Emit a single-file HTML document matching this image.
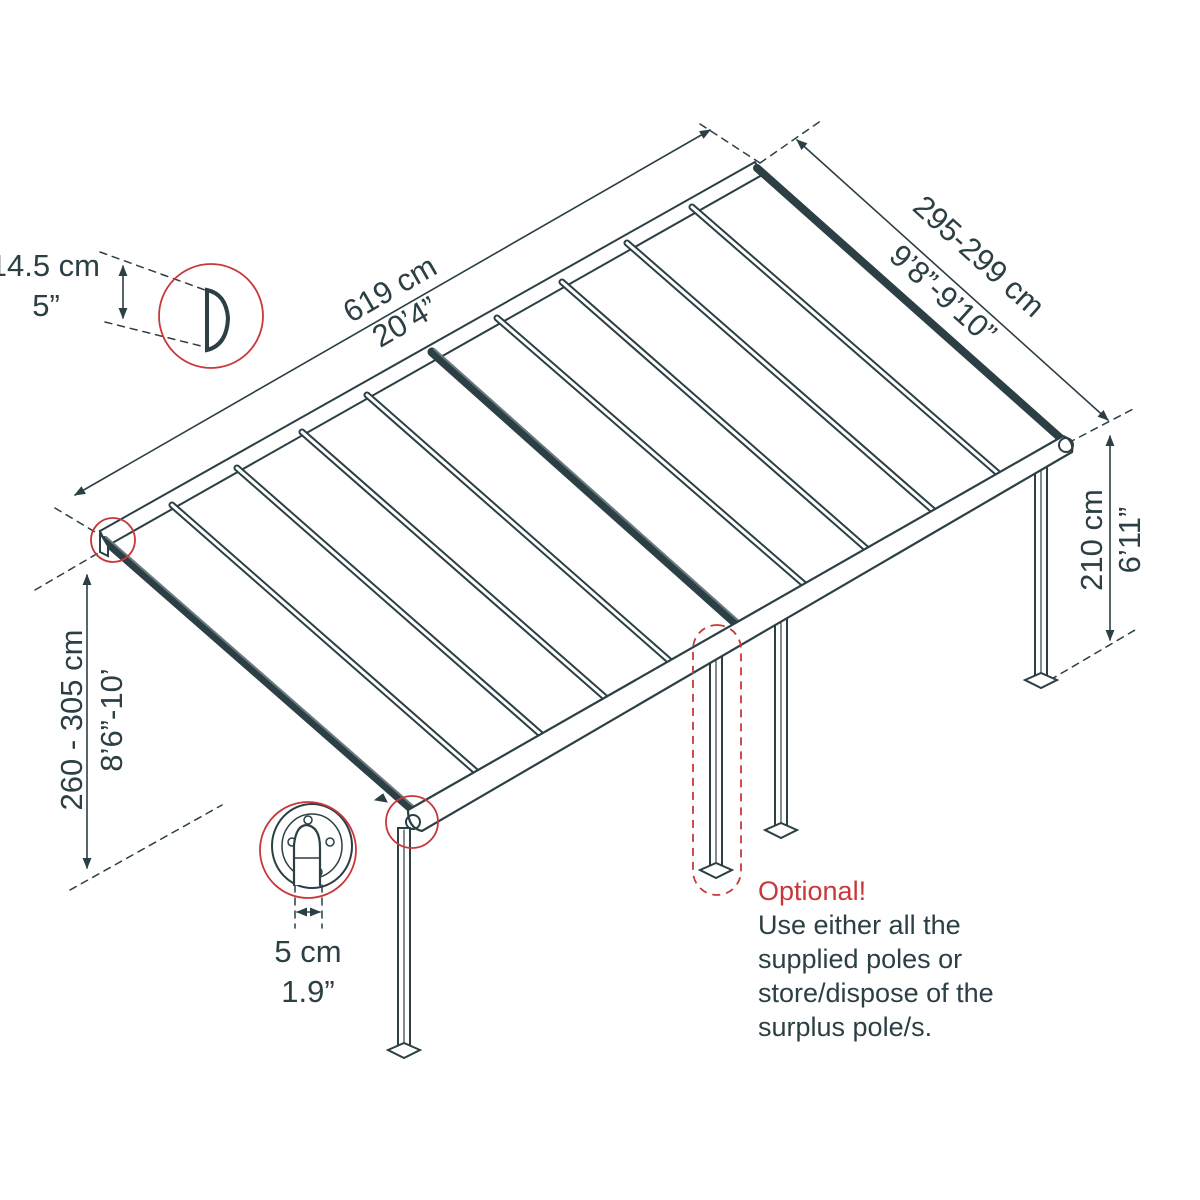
<!DOCTYPE html>
<html><head><meta charset="utf-8"><style>
html,body{margin:0;padding:0;background:#fff;}
svg{display:block}
text{font-family:"Liberation Sans",sans-serif;fill:#2b3f45}
</style></head><body>
<svg width="1200" height="1200" viewBox="0 0 1200 1200" xmlns="http://www.w3.org/2000/svg">
<defs>
<marker id="a" viewBox="0 0 10 10" refX="9" refY="5" markerWidth="7" markerHeight="7" orient="auto-start-reverse"><path d="M0,1 L10,5 L0,9 z" fill="#2b3f45"/></marker>
</defs>
<g stroke="#2b3f45" fill="none" stroke-linecap="round">
<g stroke-dasharray="7,6" stroke-width="1.5">
<line x1="55" y1="508" x2="100" y2="535"/>
<line x1="700" y1="124" x2="760" y2="163"/>
<line x1="760" y1="163" x2="822" y2="120"/>
<line x1="1068" y1="443" x2="1135" y2="408"/>
<line x1="1050" y1="680" x2="1135" y2="630"/>
<line x1="35" y1="590" x2="100" y2="552"/>
<line x1="70" y1="890" x2="222" y2="805"/>
<line x1="100" y1="252" x2="205" y2="290"/>
<line x1="105" y1="322" x2="205" y2="347"/>
<line x1="295" y1="885" x2="295" y2="928"/>
<line x1="322" y1="885" x2="322" y2="928"/>
</g>
<g stroke-width="1.6">
<line x1="75" y1="495" x2="710" y2="130" marker-start="url(#a)" marker-end="url(#a)"/>
<line x1="797" y1="140" x2="1108" y2="420" marker-start="url(#a)" marker-end="url(#a)"/>
<line x1="1110" y1="436" x2="1110" y2="640" marker-start="url(#a)" marker-end="url(#a)"/>
<line x1="87" y1="575" x2="87" y2="868" marker-start="url(#a)" marker-end="url(#a)"/>
<line x1="123" y1="266" x2="123" y2="318" marker-start="url(#a)" marker-end="url(#a)"/>
<line x1="297" y1="912" x2="320" y2="912" marker-start="url(#a)" marker-end="url(#a)"/>
</g>
<g stroke-width="2" fill="#fff">
<rect x="398" y="828" width="12" height="222"/>
<rect x="710" y="648" width="12" height="222"/>
<rect x="775" y="615" width="12" height="215"/>
<rect x="1035" y="456" width="12" height="224"/>
</g>
<g stroke-width="1.2"><line x1="404" y1="830" x2="404" y2="1048"/><line x1="716" y1="650" x2="716" y2="868"/><line x1="781" y1="617" x2="781" y2="828"/><line x1="1041" y1="458" x2="1041" y2="678"/></g>
<g stroke-width="2" fill="#fff">
<path d="M388 1050 L404 1043 L420 1050 L404 1058 Z"/>
<path d="M700 870 L716 863 L732 870 L716 878 Z"/>
<path d="M765 830 L781 823 L797 830 L781 838 Z"/>
<path d="M1025 680 L1041 673 L1057 680 L1041 688 Z"/>
</g>
<path d="M100 531 L755 162 L762 175 L107 546 Z" fill="#fff" stroke-width="2"/>
<g stroke-width="7">
<line x1="172" y1="505" x2="480" y2="775"/>
<line x1="237" y1="468" x2="545" y2="738"/>
<line x1="302" y1="432" x2="608" y2="700"/>
<line x1="367" y1="395" x2="672" y2="663"/>
<line x1="497" y1="318" x2="805" y2="585"/>
<line x1="562" y1="282" x2="868" y2="550"/>
<line x1="627" y1="243" x2="935" y2="512"/>
<line x1="692" y1="207" x2="1000" y2="475"/>
</g>
<g stroke-width="3" stroke="#fff">
<line x1="172" y1="505" x2="480" y2="775"/>
<line x1="237" y1="468" x2="545" y2="738"/>
<line x1="302" y1="432" x2="608" y2="700"/>
<line x1="367" y1="395" x2="672" y2="663"/>
<line x1="497" y1="318" x2="805" y2="585"/>
<line x1="562" y1="282" x2="868" y2="550"/>
<line x1="627" y1="243" x2="935" y2="512"/>
<line x1="692" y1="207" x2="1000" y2="475"/>
</g>
<line x1="432" y1="352" x2="740" y2="627" stroke-width="9"/>
<line x1="434" y1="349" x2="742" y2="624" stroke-width="2" stroke="#6a7b80"/>
<line x1="104" y1="540" x2="418" y2="815" stroke-width="8"/>
<line x1="106" y1="537" x2="420" y2="812" stroke-width="2" stroke="#6a7b80"/>
<line x1="757" y1="168" x2="1066" y2="443" stroke-width="8"/>
<path d="M408 810 L1063 436 Q1074 440 1072 452 L422 831 Q408 828 408 810 Z" fill="#fff" stroke-width="2.2"/>
<circle cx="413" cy="822" r="7" stroke-width="2"/>
<circle cx="1066" cy="445" r="7" stroke-width="2"/>
<path d="M100 533 L108 546 L108 556 L100 552 Z" fill="#fff" stroke-width="2"/>
<path d="M375 800 l8 -6 l4 8 z" fill="#2b3f45" stroke-width="1"/>
<path d="M207 290 Q226 294 228 318 Q227 345 207 350 Z" stroke-width="4" fill="#fff"/>
<ellipse cx="312" cy="846" rx="40" ry="42" stroke-width="2"/>
<ellipse cx="312" cy="846" rx="30" ry="32" stroke-width="1.5"/>
<circle cx="308" cy="820" r="4" stroke-width="1.5"/><circle cx="292" cy="842" r="4" stroke-width="1.5"/><circle cx="330" cy="842" r="4" stroke-width="1.5"/><circle cx="318" cy="872" r="4" stroke-width="1.5"/>
<path d="M294 885 L294 845 Q296 825 307 825 Q320 827 320 848 L320 885" fill="#fff" stroke-width="2.2"/>
<line x1="294" y1="858" x2="320" y2="858" stroke-width="1.5"/>
</g>
<g stroke="#c8383a" fill="none" stroke-width="1.8">
<circle cx="211" cy="316" r="52"/>
<circle cx="113" cy="540" r="22"/>
<circle cx="412" cy="822" r="26"/>
<circle cx="308" cy="850" r="48"/>
<rect x="693" y="625" width="48" height="270" rx="24" stroke-dasharray="8,6"/>
</g>
<g font-size="31">
<text transform="translate(395,298) rotate(-30)" text-anchor="middle">619 cm</text>
<text transform="translate(410,331) rotate(-30)" text-anchor="middle">20’4”</text>
<text transform="translate(972,264) rotate(42)" text-anchor="middle">295-299 cm</text>
<text transform="translate(936,302) rotate(42)" text-anchor="middle">9’8”-9’10”</text>
<text transform="translate(1102,540) rotate(-90)" text-anchor="middle">210 cm</text>
<text transform="translate(1140,540) rotate(-90)" text-anchor="middle">6’11”</text>
<text transform="translate(82,720) rotate(-90)" text-anchor="middle">260 - 305 cm</text>
<text transform="translate(122,720) rotate(-90)" text-anchor="middle">8’6”-10’</text>
<text x="100" y="276" text-anchor="end">14.5 cm</text>
<text x="46" y="316" text-anchor="middle">5”</text>
<text x="308" y="962" text-anchor="middle">5 cm</text>
<text x="308" y="1002" text-anchor="middle">1.9”</text>
</g>
<g font-size="27">
<text x="758" y="900" style="fill:#c8383a">Optional!</text>
<text x="758" y="934">Use either all the</text>
<text x="758" y="968">supplied poles or</text>
<text x="758" y="1002">store/dispose of the</text>
<text x="758" y="1036">surplus pole/s.</text>
</g>
</svg>
</body></html>
